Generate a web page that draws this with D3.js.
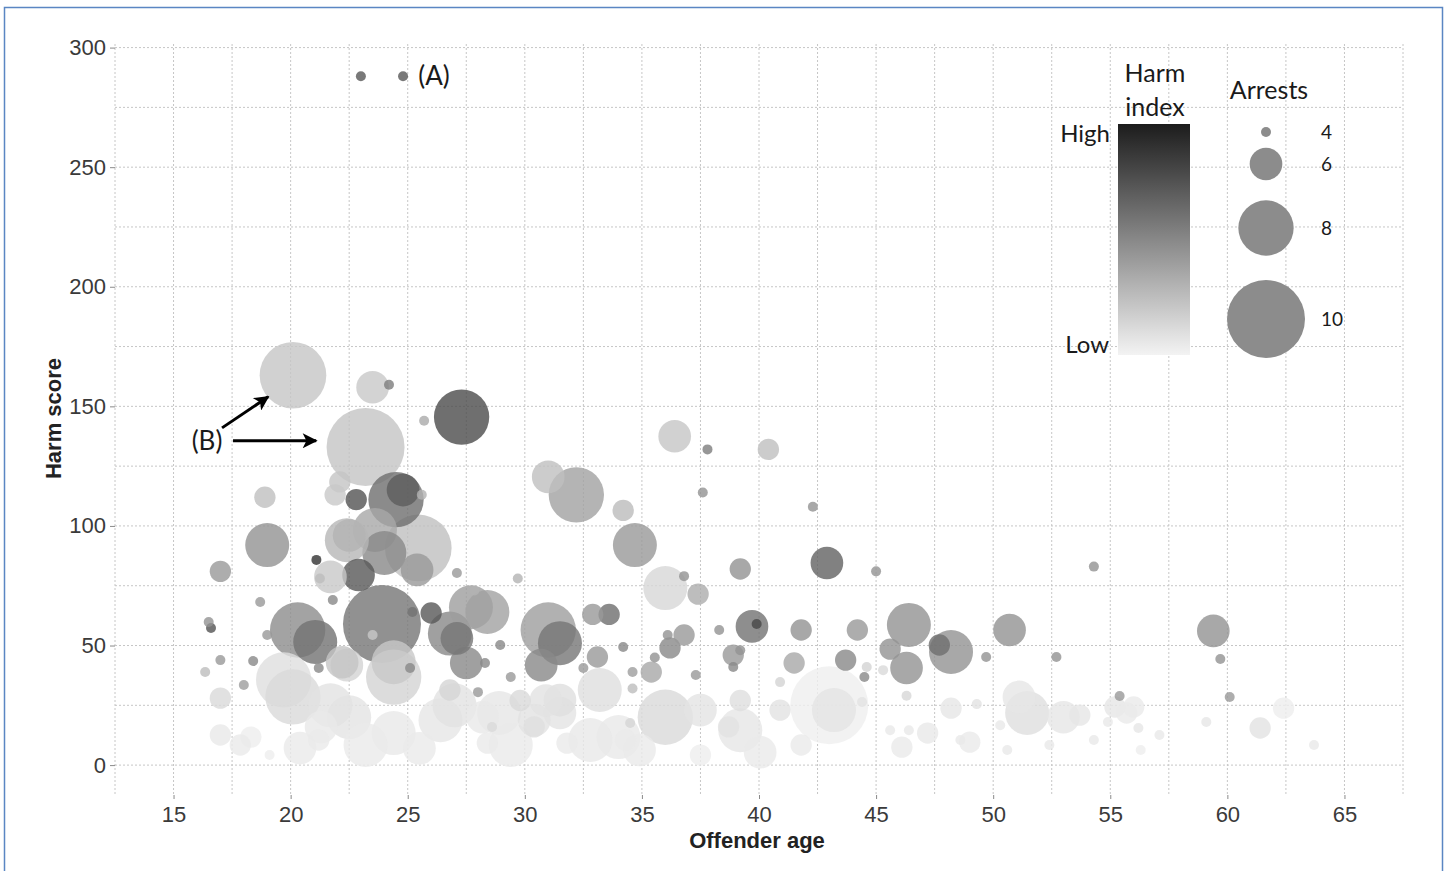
<!DOCTYPE html>
<html>
<head>
<meta charset="utf-8">
<script src="https://cdn.jsdelivr.net/npm/d3@7"></script>
<style>
  html, body { margin: 0; padding: 0; background: #ffffff; }
  svg { display: block; }
</style>
</head>
<body>
<svg id="chart" width="1447" height="871"></svg>
<script>
// ---------------- DATA ----------------
const xTicks = [15, 20, 25, 30, 35, 40, 45, 50, 55, 60, 65];
const yTicks = [0, 50, 100, 150, 200, 250, 300];
const sizeLegendValues = [4, 6, 8, 10];
const colorLegendLabels = ["High", "Low"];

// offender age
const ages = [
  23.0,24.8,20.1,23.5,24.2,25.7,27.3,23.2,36.4,37.8,
  40.4,37.6,42.3,31.0,32.2,34.2,34.7,36.0,36.8,37.4,
  39.2,42.9,45.0,54.3,18.9,19.0,17.0,27.1,29.7,39.7,
  39.9,38.3,41.8,44.2,33.6,32.9,31.0,31.5,30.7,22.1,
  22.8,24.5,24.8,21.9,25.6,25.45,23.6,22.5,24.0,22.4,
  21.1,22.9,21.7,21.25,25.4,23.9,26.0,25.2,23.5,20.3,
  21.05,18.7,16.6,16.5,19.0,21.8,17.0,18.4,16.35,18.0,
  21.2,17.0,19.7,20.1,22.4,24.4,25.1,26.8,27.7,28.4,
  28.95,28.3,28.0,29.4,27.5,27.1,24.4,22.2,33.1,32.5,
  34.2,34.6,34.6,35.4,35.55,36.2,36.8,36.1,37.3,38.9,
  39.2,38.9,41.5,40.9,43.7,44.6,46.4,45.6,46.3,48.2,
  47.7,49.7,50.7,52.7,59.4,59.7,60.1,55.4,44.5,45.3,
  46.3,27.85,
  36.0,33.2,30.4,39.2,40.9,43.2,46.4,28.9,31.5,34.5,
  34.0,38.7,51.45,51.1,53.0,48.2,49.3,47.2,45.6,49.0,
  46.1,44.4,55.2,55.7,54.3,61.4,59.1,56.0,56.2,50.6,
  53.7,54.9,62.4,63.7,56.3,17.0,22.5,21.3,24.4,26.4,
  28.2,30.4,31.5,18.3,21.2,28.4,31.8,34.3,28.6,17.85,
  19.1,20.4,21.7,23.2,25.5,27.0,29.4,30.9,32.8,34.9,
  37.5,40.05,37.5,41.8,48.6,50.3,52.4,57.1,26.8,29.8,
  39.2,43.0
];
// harm score
const harmScores = [
  288,288,163,158,159,144,145.5,133,137.5,132,
  132,114,108,120.5,113,106.5,92,74,79,71.5,
  82,84.5,81,83,112,92,81,80.3,78,58,
  59,56.5,56.5,56.5,63,63,56.5,51,41.8,118.4,
  111,111,115,113,113,90.8,98.3,96,88.7,94,
  85.8,79.5,78.7,78,81.6,59,63.6,64,54.4,56.5,
  51.5,68.2,57.3,59.8,54.4,69,43.9,43.5,38.9,33.5,
  40.6,28,35.6,28.5,41.8,36.8,40.6,55,66,64,
  50.2,42.7,30.5,36.8,42.7,53,43,43,45.2,40.6,
  49.4,38.9,32,38.9,45,49,54.4,54.4,37.7,46,
  48,41,42.7,34.7,43.9,41,58.6,48.5,40.6,47.3,
  50.2,45.2,56.5,45.2,56.1,44.4,28.5,28.9,36.8,39.7,
  29,73,
  20,31.4,16,14.6,23,23,14.6,21.8,21.8,17.6,
  11.7,16,21.8,28.5,20,23.8,25.5,13.4,14.6,9.6,
  7.5,26.4,24.3,21.8,10.5,15.5,18,24.3,15.5,6.3,
  20.9,18,23.8,8.4,6.3,12.6,20,15.9,13.4,18.8,
  20,18.8,27.2,11.7,10.5,9.2,9.2,10.5,15.9,8.4,
  4.2,7.1,25,8.4,7,25,8.4,27,10.5,6.3,
  23,5.4,4.2,8.4,10.5,16.7,8.4,12.6,31.4,27,
  27,25
];
// number of arrests
const arrestCounts = [
  4,4,9,6,4,4,8,10,6,4,
  5,4,4,6,8,5,7,7,4,5,
  5,6,4,4,5,7,5,4,4,6,
  4,4,5,5,5,5,8,7,6,5,
  5,8,6,5,4,9,7,6,7,7,
  4,6,6,4,6,10,5,4,4,8,
  7,4,4,4,4,4,4,4,4,4,
  4,5,8,8,6,8,4,7,7,7,
  4,4,4,4,6,6,7,6,5,4,
  4,4,4,5,4,5,5,4,4,5,
  4,4,5,4,5,4,7,5,6,7,
  5,4,6,4,6,4,4,4,4,4,
  4,4,
  8,7,5,7,5,7,4,7,6,4,
  7,5,7,6,6,5,4,5,4,5,
  5,4,5,5,4,5,4,5,4,4,
  5,4,5,4,4,5,7,6,7,7,
  6,6,6,5,5,5,5,5,4,5,
  4,6,7,7,6,7,7,6,7,6,
  6,6,5,5,4,4,4,4,5,5,
  5,10
];
// harm index (0 = low, 1 = high)
const harmIndex = [
  .72,.72,.21,.2,.55,.34,.78,.22,.21,.55,
  .24,.45,.45,.24,.38,.26,.42,.13,.45,.33,
  .45,.68,.45,.45,.24,.45,.42,.42,.3,.6,
  .8,.45,.45,.42,.62,.42,.4,.58,.5,.22,
  .75,.62,.7,.2,.3,.24,.35,.3,.5,.28,
  .9,.72,.2,.25,.42,.58,.72,.6,.2,.48,
  .6,.42,.75,.45,.42,.5,.42,.5,.25,.4,
  .5,.12,.1,.12,.15,.15,.5,.5,.4,.38,
  .5,.5,.42,.42,.5,.58,.2,.22,.42,.42,
  .5,.4,.25,.35,.45,.5,.42,.45,.42,.42,
  .45,.5,.35,.15,.5,.15,.45,.45,.45,.45,
  .62,.45,.45,.45,.45,.45,.42,.42,.5,.12,
  .13,.3,
  .12,.1,.1,.06,.08,.07,.05,.06,.07,.14,
  .05,.08,.1,.06,.06,.06,.08,.05,.05,.04,
  .04,.08,.06,.04,.05,.08,.06,.04,.06,.05,
  .06,.05,.03,.05,.03,.05,.07,.05,.05,.06,
  .05,.08,.1,.03,.04,.04,.04,.04,.12,.04,
  .03,.04,.08,.04,.04,.08,.04,.08,.05,.04,
  .07,.04,.03,.04,.05,.05,.05,.05,.14,.12,
  .1,.02
];

// annotations (data coordinates)
const labelA = { text: "(A)", age: 25.45, harm: 288 };
const labelB = { text: "(B)", age: 16.43, harm: 135.6 };
const arrowsB = [
  { x1: 17.07, y1: 141, x2: 19.04, y2: 154 },
  { x1: 17.54, y1: 135.6, x2: 21.09, y2: 135.6 }
];

// ---------------- CHART ----------------
const svg = d3.select("#chart");
const W = 1447, H = 871;
const panel = { left: 115, right: 1403, top: 44, bottom: 795 };

svg.append("rect").attr("width", W).attr("height", H).attr("fill", "#ffffff");
svg.append("rect")
  .attr("x", 4.5).attr("y", 7.5).attr("width", 1438).attr("height", 890)
  .attr("fill", "none").attr("stroke", "#5a86c3").attr("stroke-width", 1.5);

const x = d3.scaleLinear().domain([12.5, 67.5]).range([panel.left, panel.right]);
const y = d3.scaleLinear().domain([-12.5, 301.5]).range([panel.bottom, panel.top]);
const r = d3.scaleLinear().domain([4, 10]).range([5, 39]);
const grayLow = "#f3f3f3", grayHigh = "#1c1c1c";
const color = d3.scaleLinear().domain([0, 1]).range([grayLow, grayHigh]);

// grid
const grid = svg.append("g").attr("class", "grid")
  .attr("stroke", "#c6c6c6").attr("stroke-width", 1).attr("stroke-dasharray", "2,2");
d3.range(12.5, 67.51, 2.5).forEach(v => {
  grid.append("line").attr("x1", x(v)).attr("x2", x(v))
    .attr("y1", panel.top).attr("y2", panel.bottom);
});
d3.range(0, 300.1, 25).forEach(v => {
  grid.append("line").attr("y1", y(v)).attr("y2", y(v))
    .attr("x1", panel.left).attr("x2", panel.right);
});

// axes
const axisFont = "'Liberation Sans', Arial, sans-serif";
const xAxis = svg.append("g").attr("transform", `translate(0,${panel.bottom})`)
  .call(d3.axisBottom(x).tickValues(xTicks).tickSize(4).tickPadding(7).tickFormat(d3.format("d")));
const yAxis = svg.append("g").attr("transform", `translate(${panel.left},0)`)
  .call(d3.axisLeft(y).tickValues(yTicks).tickSize(5).tickPadding(4).tickFormat(d3.format("d")));
[xAxis, yAxis].forEach(g => {
  g.select(".domain").remove();
  g.selectAll(".tick line").attr("stroke", "#8a8a8a");
  g.selectAll(".tick text").attr("fill", "#3a3a3a")
    .style("font-family", axisFont).style("font-size", "22px");
});

svg.append("text")
  .attr("x", (panel.left + panel.right) / 2 - 2).attr("y", 848)
  .attr("text-anchor", "middle")
  .style("font-family", axisFont).style("font-size", "22px").style("font-weight", "bold")
  .attr("fill", "#222").text("Offender age");
svg.append("text")
  .attr("transform", `translate(61,${(panel.top + panel.bottom) / 2 - 1}) rotate(-90)`)
  .attr("text-anchor", "middle")
  .style("font-family", axisFont).style("font-size", "22px").style("font-weight", "bold")
  .attr("fill", "#222").text("Harm score");

// points
const points = ages.map((a, i) => ({
  age: a, harm: harmScores[i], arrests: arrestCounts[i], idx: harmIndex[i]
})).sort((p, q) => q.arrests - p.arrests);

svg.append("g").selectAll("circle").data(points).join("circle")
  .attr("cx", d => x(d.age)).attr("cy", d => y(d.harm))
  .attr("r", d => r(d.arrests))
  .attr("fill", d => color(d.idx)).attr("fill-opacity", 0.8);

// annotations
const annFont = "Lato, 'Open Sans', sans-serif";
svg.append("text").attr("x", x(labelA.age)).attr("y", y(labelA.harm))
  .attr("dy", "0.35em")
  .style("font-family", annFont).style("font-size", "26px").attr("fill", "#1a1a1a")
  .text(labelA.text);
svg.append("text").attr("x", x(labelB.age)).attr("y", y(labelB.harm))
  .attr("dy", "0.35em").attr("text-anchor", "middle")
  .style("font-family", annFont).style("font-size", "26px").attr("fill", "#1a1a1a")
  .text(labelB.text);

const defs = svg.append("defs");
defs.append("marker").attr("id", "arrowhead")
  .attr("viewBox", "0 0 10 10").attr("refX", 9).attr("refY", 5)
  .attr("markerWidth", 6).attr("markerHeight", 5).attr("markerUnits", "strokeWidth")
  .attr("orient", "auto")
  .append("path").attr("d", "M0,0 L10,5 L0,10 L2.5,5 Z").attr("fill", "#000");
svg.append("g").selectAll("line").data(arrowsB).join("line")
  .attr("x1", d => x(d.x1)).attr("y1", d => y(d.y1))
  .attr("x2", d => x(d.x2)).attr("y2", d => y(d.y2))
  .attr("stroke", "#000").attr("stroke-width", 3)
  .attr("marker-end", "url(#arrowhead)");

// color legend
const grad = defs.append("linearGradient").attr("id", "harmGrad")
  .attr("x1", 0).attr("y1", 0).attr("x2", 0).attr("y2", 1);
d3.range(0, 1.001, 0.1).forEach(t => {
  grad.append("stop").attr("offset", t).attr("stop-color", color(1 - t));
});
const lg = svg.append("g");
lg.append("rect").attr("x", 1118).attr("y", 124).attr("width", 72).attr("height", 231)
  .attr("fill", "url(#harmGrad)");
lg.append("text").attr("x", 1155).attr("y", 82).attr("text-anchor", "middle")
  .style("font-family", annFont).style("font-size", "25px").attr("fill", "#1a1a1a").text("Harm");
lg.append("text").attr("x", 1155).attr("y", 116).attr("text-anchor", "middle")
  .style("font-family", annFont).style("font-size", "25px").attr("fill", "#1a1a1a").text("index");
lg.append("text").attr("x", 1110).attr("y", 134).attr("dy", "0.35em").attr("text-anchor", "end")
  .style("font-family", annFont).style("font-size", "24px").attr("fill", "#1a1a1a").text(colorLegendLabels[0]);
lg.append("text").attr("x", 1109).attr("y", 345).attr("dy", "0.35em").attr("text-anchor", "end")
  .style("font-family", annFont).style("font-size", "24px").attr("fill", "#1a1a1a").text(colorLegendLabels[1]);

// size legend
const sg = svg.append("g");
sg.append("text").attr("x", 1269).attr("y", 90).attr("dy", "0.35em").attr("text-anchor", "middle")
  .style("font-family", annFont).style("font-size", "25px").attr("fill", "#1a1a1a").text("Arrests");
const sizeCenters = [132, 164, 228, 319];
sizeLegendValues.forEach((v, i) => {
  sg.append("circle").attr("cx", 1266).attr("cy", sizeCenters[i]).attr("r", r(v))
    .attr("fill", "#8c8c8c");
  sg.append("text").attr("x", 1321).attr("y", sizeCenters[i]).attr("dy", "0.35em")
    .style("font-family", annFont).style("font-size", "19px").attr("fill", "#1a1a1a").text(v);
});
</script>
</body>
</html>
